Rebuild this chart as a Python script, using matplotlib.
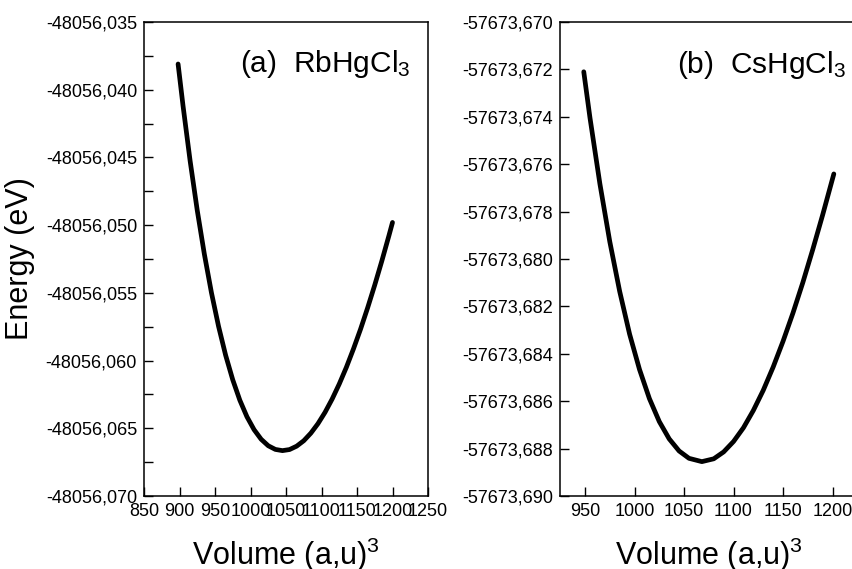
import matplotlib
matplotlib.use("Agg")
import matplotlib.pyplot as plt
from matplotlib.ticker import FuncFormatter

plt.rcParams['font.family'] = ['Liberation Sans', 'DejaVu Sans']
plt.rcParams['mathtext.fontset'] = 'custom'
plt.rcParams['mathtext.rm'] = 'Liberation Sans'
plt.rcParams['mathtext.it'] = 'Liberation Sans:italic'

# Panel (a) RbHgCl3 : volume (a.u.^3) and total energy (eV)
vol_a = [898, 905, 915, 925, 935, 945, 955, 965, 975, 985, 995, 1005, 1015, 1025,
         1035, 1045, 1055, 1065, 1075, 1085, 1095, 1105, 1115, 1125, 1135, 1145,
         1155, 1165, 1175, 1185, 1195, 1200]
energy_a = [-48056.03810, -48056.04120, -48056.04527, -48056.04891, -48056.05214,
            -48056.05499, -48056.05747, -48056.05961, -48056.06142, -48056.06293,
            -48056.06415, -48056.06510, -48056.06581, -48056.06629, -48056.06656,
            -48056.06665, -48056.06657, -48056.06632, -48056.06592, -48056.06536,
            -48056.06466, -48056.06382, -48056.06284, -48056.06173, -48056.06050,
            -48056.05914, -48056.05768, -48056.05610, -48056.05442, -48056.05264,
            -48056.05077, -48056.04980]

# Panel (b) CsHgCl3
vol_b = [948.7, 955, 965, 975, 985, 995, 1005, 1015, 1025, 1035, 1045, 1055, 1068,
         1080, 1090, 1100, 1110, 1120, 1130, 1140, 1150, 1160, 1170, 1180, 1190,
         1200, 1201.3]
energy_b = [-57673.67210, -57673.67405, -57673.67683, -57673.67927, -57673.68137,
            -57673.68317, -57673.68466, -57673.68589, -57673.68686, -57673.68759,
            -57673.68810, -57673.68841, -57673.68855, -57673.68843, -57673.68814,
            -57673.68770, -57673.68712, -57673.68639, -57673.68554, -57673.68456,
            -57673.68347, -57673.68228, -57673.68099, -57673.67960, -57673.67814,
            -57673.67661, -57673.67641]

xticks_a = [850, 900, 950, 1000, 1050, 1100, 1150, 1200, 1250]
yticks_a = [-48056.070, -48056.065, -48056.060, -48056.055, -48056.050,
            -48056.045, -48056.040, -48056.035]
yminor_a = [-48056.0675, -48056.0625, -48056.0575, -48056.0525, -48056.0475,
            -48056.0425, -48056.0375]
xticks_b = [950, 1000, 1050, 1100, 1150, 1200]
yticks_b = [-57673.690, -57673.688, -57673.686, -57673.684, -57673.682,
            -57673.680, -57673.678, -57673.676, -57673.674, -57673.672, -57673.670]

W, H = 853, 569
fig = plt.figure(figsize=(W / 100, H / 100), dpi=100)

ax1 = fig.add_axes([144 / W, 1 - 496 / H, 284 / W, 474 / H])
ax2 = fig.add_axes([560.3 / W, 1 - 496 / H, 297 / W, 474 / H])

comma = FuncFormatter(lambda v, p: f"{v:.3f}".replace('.', ','))

for ax in (ax1, ax2):
    for s in ax.spines.values():
        s.set_linewidth(1.1)
    ax.tick_params(direction='in', length=6.5, width=1.0, labelsize=13, pad=5)
    ax.tick_params(which='minor', direction='in', length=6.5, width=1.0)

ax1.plot(vol_a, energy_a, color='black', lw=3.4, solid_capstyle='round',
         solid_joinstyle='round')
ax1.set_xlim(850, 1250)
ax1.set_ylim(-48056.070, -48056.035)
ax1.set_xticks(xticks_a)
ax1.set_yticks(yticks_a)
ax1.set_yticks(yminor_a, minor=True)
ax1.yaxis.set_major_formatter(comma)
ax1.set_xlabel('Volume (a,u)$^3$', fontsize=22, labelpad=11)
ax1.text(0.338, 0.895, '(a)  RbHgCl$_3$', transform=ax1.transAxes, fontsize=21.5,
         ha='left', va='baseline')

ax2.plot(vol_b, energy_b, color='black', lw=3.4, solid_capstyle='round',
         solid_joinstyle='round')
ax2.set_xlim(925, 1225)
ax2.set_ylim(-57673.690, -57673.670)
ax2.set_xticks(xticks_b)
ax2.set_yticks(yticks_b)
ax2.yaxis.set_major_formatter(comma)
ax2.set_xlabel('Volume (a,u)$^3$', fontsize=22, labelpad=11)
ax2.text(0.392, 0.893, '(b)  CsHgCl$_3$', transform=ax2.transAxes, fontsize=21.5,
         ha='left', va='baseline')

fig.text(20 / W, 1 - 259 / H, 'Energy (eV)', rotation=90, fontsize=22,
         ha='center', va='center')

fig.savefig('out.png', dpi=100)
